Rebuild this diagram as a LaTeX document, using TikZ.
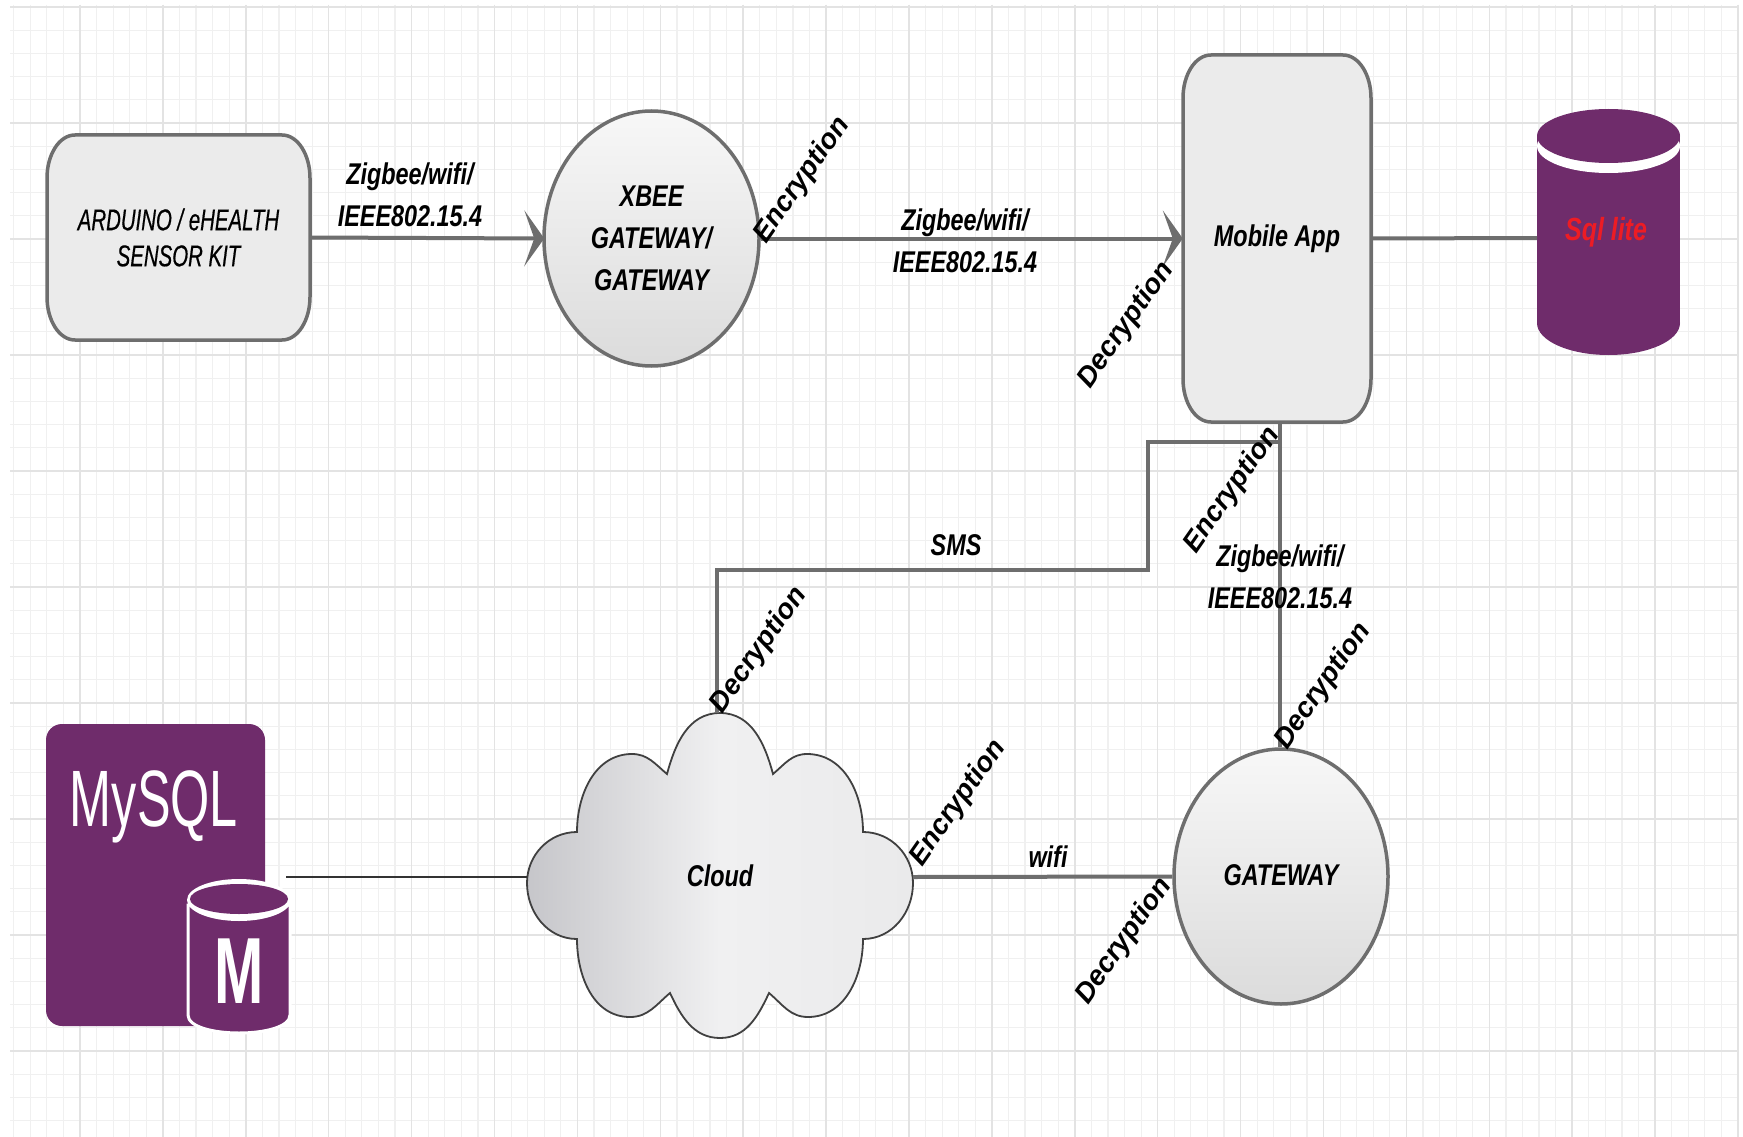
\documentclass[tikz,border=0pt]{standalone}
\usepackage{fontspec}
\usetikzlibrary{arrows.meta,shapes.geometric}
\setmainfont{Liberation Sans}
\newfontfamily\boldnarrow[FakeStretch=0.78]{Liberation Sans}
\newfontfamily\plainnarrow[FakeStretch=0.68,FakeBold=0.5]{Liberation Sans}
\newfontfamily\logonarrow[FakeStretch=0.63]{Liberation Sans}
\definecolor{linegray}{HTML}{6E6E6E}
\definecolor{boxgray}{HTML}{EBEBEB}
\definecolor{dbpurple}{HTML}{6F2C6B}
\definecolor{sqlred}{HTML}{ED1C24}
\definecolor{cloudleft}{HTML}{C6C6CA}
\definecolor{cloudmid}{HTML}{F0F0F1}
\definecolor{cloudright}{HTML}{EAEAEB}
\tikzset{
  gridminor/.style={line width=1.2pt, draw=black!6},
  gridmajor/.style={line width=1.5pt, draw=black!11},
  boxline/.style={draw=linegray, line width=3.5pt, fill=boxgray},
  boxnode/.style={inner sep=0pt, align=center},
  gatenode/.style={ellipse, draw=linegray, line width=3.5pt, top color=black!3, bottom color=black!14, inner sep=0pt, align=center},
  conn/.style={draw=linegray, line width=4pt},
  connarrow/.style={conn, -{Stealth[length=20pt, width=56pt, inset=10pt]}},
  linktext/.style={font=\boldnarrow\bfseries\itshape\fontsize{30}{42}\selectfont, align=center, inner sep=0pt},
  rottext/.style={font=\bfseries\itshape\fontsize{28}{33}\selectfont, rotate=55, inner sep=0pt}
}
% left, top, right, bottom: box with corners taller than wide
\newcommand{\softbox}[4]{
  \draw[boxline] (#1+28,#2) -- (#3-28,#2) .. controls (#3-12,#2) and (#3,#2+20) .. (#3,#2+43)
    -- (#3,#4-43) .. controls (#3,#4-20) and (#3-12,#4) .. (#3-28,#4)
    -- (#1+28,#4) .. controls (#1+12,#4) and (#1,#4-20) .. (#1,#4-43)
    -- (#1,#2+43) .. controls (#1,#2+20) and (#1+12,#2) .. (#1+28,#2) -- cycle;
}
\begin{document}
\begin{tikzpicture}[x=1pt, y=-1pt]
  \useasboundingbox (0,0) rectangle (1743,1137);
  \fill[white] (0,0) rectangle (1743,1137);
  % grid
  \foreach \gx in {0,...,104} \draw[gridminor] (13.7+16.58*\gx,5) -- (13.7+16.58*\gx,1137);
  \foreach \gy in {0,...,48} \draw[gridminor] (10,7+23.2*\gy) -- (1738,7+23.2*\gy);
  \foreach \gx in {0,...,20} \draw[gridmajor] (80+82.9*\gx,5) -- (80+82.9*\gx,1137);
  \foreach \gy in {0,...,9} \draw[gridmajor] (10,7+116*\gy) -- (1738,7+116*\gy);

  % top row
  \softbox{47}{135}{310}{340}
  \node[boxnode, minimum width=263pt, minimum height=205pt, font=\plainnarrow\itshape\fontsize{30}{36}\selectfont] (arduino) at (178.5,237.5) {ARDUINO / eHEALTH\\SENSOR KIT};
  \node[gatenode, minimum width=215pt, minimum height=255pt, font=\boldnarrow\bfseries\itshape\fontsize{30}{42}\selectfont] (xbee) at (651.5,238.5) {XBEE\\GATEWAY/\\GATEWAY};
  \softbox{1183}{55}{1371}{422}
  \node[boxnode, minimum width=188pt, minimum height=367pt, font=\boldnarrow\bfseries\itshape\fontsize{30}{36}\selectfont] (mobile) at (1277,238.5) {Mobile App};

  % sql lite drum
  \fill[dbpurple] (1537,136) rectangle (1680,323);
  \fill[dbpurple] (1608.5,323) ellipse (71.5 and 32);
  \fill[white] (1608.5,146) ellipse (71.5 and 27);
  \fill[dbpurple] (1608.5,136) ellipse (71.5 and 27);
  \node[inner sep=0pt, minimum width=143pt, font=\boldnarrow\bfseries\itshape\fontsize{32}{36}\selectfont, text=sqlred] (sqllite) at (1606,232) {Sql lite};
  \coordinate (sqlleft) at (1537,238);

  % mysql icon
  \fill[dbpurple, rounded corners=16pt] (46,724) rectangle (265,1026);
  \fill[dbpurple, draw=white, line width=3pt] (188,905) -- (188,1015) .. controls (188,1039) and (290,1039) .. (290,1015) -- (290,905) -- cycle;
  \fill[white] (239,900) ellipse (52 and 21);
  \fill[dbpurple] (239,899) ellipse (49 and 15);
  \node[font=\logonarrow\fontsize{80}{90}\selectfont, text=white, inner sep=0pt] (mysql) at (154,807) {MySQL};
  \node[font=\logonarrow\bfseries\fontsize{94}{100}\selectfont, text=white, inner sep=0pt] (mletter) at (239,971) {M};
  \coordinate (mysqlend) at (286,877);

  % cloud
  \path[draw=black!75, line width=1.8pt, left color=cloudleft, right color=cloudright, middle color=cloudmid]
    (667,774) to[out=75, in=180] (720,713) to[out=0, in=105] (773,774)
    to[out=40, in=180] (807,754) to[out=0, in=90] (863,832)
    to[out=0, in=90] (913,883) to[out=-90, in=0] (863,939)
    to[out=-90, in=0] (808,1017) to[out=180, in=-40] (769,993)
    to[out=-115, in=0] (720,1038) to[out=180, in=-65] (670,993)
    to[out=-140, in=0] (630,1017) to[out=180, in=-90] (577,939)
    to[out=180, in=-90] (527,883) to[out=90, in=180] (577,832)
    to[out=90, in=180] (632,754) to[out=0, in=140] (667,774) -- cycle;
  \node[minimum width=386pt, minimum height=328pt, inner sep=0pt, font=\boldnarrow\bfseries\itshape\fontsize{30}{36}\selectfont] (cloud) at (720,877) {\raisebox{3pt}{Cloud}};
  \node[gatenode, minimum width=214pt, minimum height=255pt, font=\boldnarrow\bfseries\itshape\fontsize{30}{36}\selectfont] (gateway) at (1281,876.5) {\raisebox{2pt}{GATEWAY}};

  % connectors
  \draw[connarrow, shorten >=-2pt] (arduino.east) -- (xbee.west);
  \draw[connarrow] (xbee.east) -- (mobile.west);
  \draw[conn] (mobile.east) -- (sqlleft);
  \draw[conn] (gateway.north -| 1280,0) -- (mobile.south -| 1280,0);
  \coordinate (smsjoint) at (1280,442);
  \draw[conn] (smsjoint) -- (1148,442) -- (1148,570) -- (717,570) -- ([xshift=-3pt]cloud.north);
  \draw[conn] (cloud.east) -- (gateway.west);
  \draw[black!80, line width=2pt] (mysqlend) -- (cloud.west);

  % labels
  \node[linktext] (lab1) at (410,194.5) {Zigbee/wifi/\\IEEE802.15.4};
  \node[linktext] (lab2) at (965,241) {Zigbee/wifi/\\IEEE802.15.4};
  \node[linktext] (lab3) at (1280,577) {Zigbee/wifi/\\IEEE802.15.4};
  \node[linktext] (labsms) at (956,545) {SMS};
  \node[linktext] (labwifi) at (1048,857) {wifi};
  \node[rottext] (enc1) at (802,180) {Encryption};
  \node[rottext] (dec1) at (1126,325) {Decryption};
  \node[rottext] (enc2) at (1232,490) {Encryption};
  \node[rottext] (dec2) at (759,650) {Decryption};
  \node[rottext] (dec3) at (1323,686) {Decryption};
  \node[rottext] (enc3) at (958,803) {Encryption};
  \node[rottext] (dec4) at (1124,941) {Decryption};
\end{tikzpicture}
\end{document}
